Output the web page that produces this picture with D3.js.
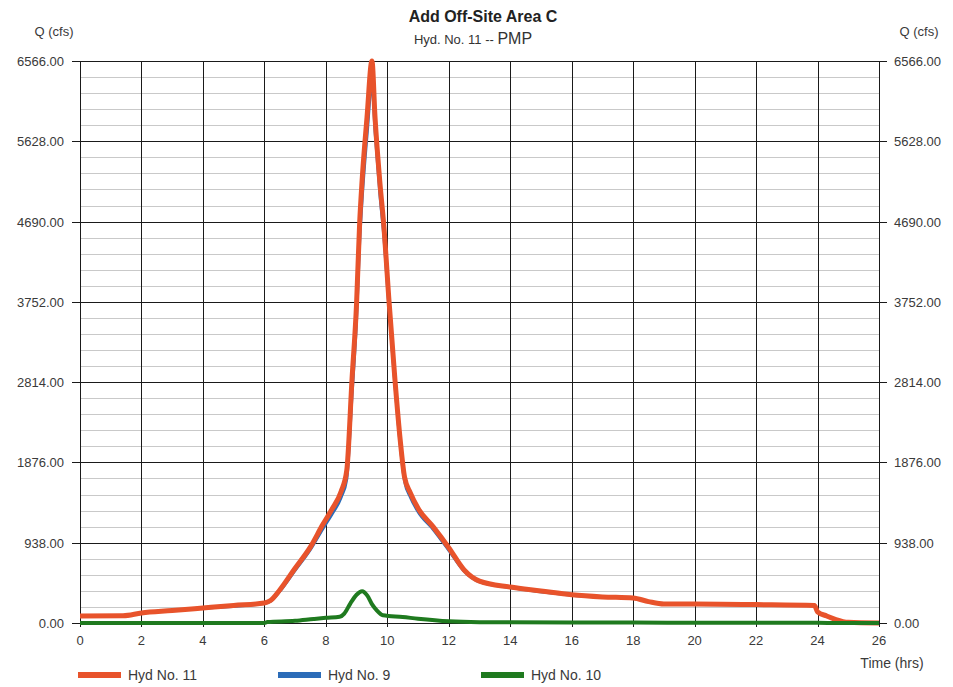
<!DOCTYPE html>
<html lang="en">
<head>
  <meta charset="UTF-8">
  <title>Add Off-Site Area C</title>
  <script src="https://d3js.org/d3.v7.min.js"></script>
  <style>
    body {
      margin: 0;
      background-color: #ffffff;
      font-family: "Liberation Sans", Arial, sans-serif;
    }
    svg {
      display: block;
    }
    .tick-label {
      font-size: 13px;
      fill: #3a3a3a;
    }
  </style>
</head>
<body>
  <svg id="chart"></svg>
  <script>
    // Hydrograph data: [time (hrs), Q (cfs)]
    const hyd11 = [
      [0, 82], [1.4, 85], [2, 117], [3, 145], [4, 175], [5, 205], [6, 233], [6.2, 262],
      [6.5, 385], [7, 640], [7.5, 890], [7.9, 1150], [8.2, 1330], [8.5, 1540], [8.68, 1780],
      [8.85, 2838], [9.0, 3738], [9.1, 4672], [9.18, 5170], [9.34, 5910], [9.5, 6566],
      [9.6, 5910], [9.76, 5139], [9.88, 4672], [10.06, 3738], [10.25, 2838], [10.42, 2137],
      [10.56, 1705], [10.75, 1520], [11.0, 1340], [11.5, 1120], [12.0, 880], [12.5, 620],
      [13, 490], [14, 420], [15, 375], [16, 330], [17, 305], [18, 292], [18.5, 250],
      [19, 222], [20, 222], [22, 215], [23.9, 205], [24.0, 130], [24.3, 82], [24.6, 40],
      [25, 8], [26, 0]
    ];

    const hyd9 = [
      [0, 80], [1.4, 83], [2, 115], [4, 172], [6, 230], [6.2, 255], [6.5, 370], [7, 615],
      [7.5, 860], [7.9, 1100], [8.2, 1270], [8.5, 1470], [8.68, 1680], [8.85, 2650],
      [9.0, 3550], [9.1, 4450], [9.18, 4950], [9.34, 5700], [9.5, 6300], [9.6, 5750],
      [9.76, 5000], [9.88, 4550], [10.06, 3650], [10.25, 2780], [10.42, 2080], [10.56, 1660],
      [10.75, 1470], [11, 1300], [11.5, 1090], [12, 850], [12.5, 605], [13, 480], [14, 415],
      [16, 325], [18, 288], [18.5, 247], [19, 220], [22, 213], [23.9, 203], [24, 128],
      [24.3, 80], [24.6, 38], [25, 6], [26, 0]
    ];

    const hyd10 = [
      [0, 0], [6, 0], [6.1, 12], [7, 25], [7.6, 47], [8, 60], [8.45, 72], [8.6, 110],
      [8.8, 230], [9.0, 330], [9.18, 372], [9.35, 320], [9.5, 220], [9.65, 150], [9.86, 90],
      [10.5, 70], [11, 50], [12, 20], [13, 10], [16, 5], [18, 5], [20, 3], [24, 2],
      [25, 0], [26, 0]
    ];

    const xTicks = [0, 2, 4, 6, 8, 10, 12, 14, 16, 18, 20, 22, 24, 26];
    const yTicks = [0, 938, 1876, 2814, 3752, 4690, 5628, 6566];
    const yMinorStep = 187.6;

    const series = [
      { name: "Hyd No. 9", data: hyd9, color: "#2b6cb8", width: 3 },
      { name: "Hyd No. 11", data: hyd11, color: "#e8532b", width: 5 },
      { name: "Hyd No. 10", data: hyd10, color: "#1f7a1f", width: 4 }
    ];
    const legendOrder = ["Hyd No. 11", "Hyd No. 9", "Hyd No. 10"];

    const W = 953, H = 687;
    const margin = { top: 61, right: 74, bottom: 64, left: 80 };
    const width = W - margin.left - margin.right;
    const height = H - margin.top - margin.bottom;

    const svg = d3.select("#chart").attr("width", W).attr("height", H);

    const x = d3.scaleLinear().domain([0, 26]).range([margin.left, margin.left + width]);
    const y = d3.scaleLinear().domain([0, 6566]).range([margin.top + height, margin.top]);

    // minor horizontal grid
    const minor = d3.range(yMinorStep, 6566, yMinorStep)
      .filter(v => Math.abs(v / 938 - Math.round(v / 938)) > 0.01);
    svg.append("g").selectAll("line").data(minor).join("line")
      .attr("x1", x(0)).attr("x2", x(26))
      .attr("y1", d => Math.round(y(d)) + 0.5).attr("y2", d => Math.round(y(d)) + 0.5)
      .attr("stroke", "#c9c9c9").attr("stroke-width", 1);

    // major horizontal grid with outside ticks on both sides
    svg.append("g").selectAll("line").data(yTicks).join("line")
      .attr("x1", x(0) - 8).attr("x2", x(26) + 8)
      .attr("y1", d => Math.round(y(d)) + 0.5).attr("y2", d => Math.round(y(d)) + 0.5)
      .attr("stroke", "#1a1a1a").attr("stroke-width", 1);

    // vertical grid
    svg.append("g").selectAll("line").data(xTicks).join("line")
      .attr("x1", d => Math.round(x(d)) + 0.5).attr("x2", d => Math.round(x(d)) + 0.5)
      .attr("y1", y(6566)).attr("y2", y(0) + 4)
      .attr("stroke", "#1a1a1a").attr("stroke-width", 1);

    // y tick labels, both sides
    svg.append("g").selectAll("text").data(yTicks).join("text")
      .attr("class", "tick-label")
      .attr("x", x(0) - 16).attr("y", d => y(d) + 5)
      .attr("text-anchor", "end")
      .text(d => d3.format(".2f")(d));
    svg.append("g").selectAll("text").data(yTicks).join("text")
      .attr("class", "tick-label")
      .attr("x", x(26) + 15).attr("y", d => y(d) + 5)
      .attr("text-anchor", "start")
      .text(d => d3.format(".2f")(d));

    // x tick labels
    svg.append("g").selectAll("text").data(xTicks).join("text")
      .attr("class", "tick-label")
      .attr("x", d => x(d)).attr("y", y(0) + 22)
      .attr("text-anchor", "middle")
      .text(d => d);

    // lines
    const line = d3.line().curve(d3.curveMonotoneX).x(d => x(d[0])).y(d => y(d[1]));
    svg.append("g").selectAll("path").data(series).join("path")
      .attr("d", d => line(d.data))
      .attr("fill", "none")
      .attr("stroke", d => d.color)
      .attr("stroke-width", d => d.width)
      .attr("stroke-linejoin", "round");

    // titles
    svg.append("text")
      .attr("x", 483).attr("y", 22)
      .attr("text-anchor", "middle")
      .style("font-size", "16px").style("font-weight", "bold").style("fill", "#222")
      .text("Add Off-Site Area C");
    const sub = svg.append("text")
      .attr("x", 473).attr("y", 44)
      .attr("text-anchor", "middle")
      .style("fill", "#333");
    sub.append("tspan").style("font-size", "13px").text("Hyd. No. 11 -- ");
    sub.append("tspan").style("font-size", "16px").text("PMP");

    svg.append("text").attr("class", "tick-label")
      .attr("x", 54).attr("y", 36).attr("text-anchor", "middle")
      .text("Q (cfs)");
    svg.append("text").attr("class", "tick-label")
      .attr("x", 919).attr("y", 36).attr("text-anchor", "middle")
      .text("Q (cfs)");
    svg.append("text").attr("class", "tick-label")
      .attr("x", 892).attr("y", 668).attr("text-anchor", "middle")
      .style("font-size", "14px")
      .text("Time (hrs)");

    // legend
    const legendX = { "Hyd No. 11": 78, "Hyd No. 9": 278, "Hyd No. 10": 481 };
    const lg = svg.append("g").selectAll("g")
      .data(legendOrder.map(n => series.find(s => s.name === n)))
      .join("g")
      .attr("transform", d => `translate(${legendX[d.name]},675)`);
    lg.append("line")
      .attr("x1", 0).attr("x2", 43).attr("y1", 0).attr("y2", 0)
      .attr("stroke", d => d.color).attr("stroke-width", 6);
    lg.append("text").attr("class", "tick-label")
      .attr("x", 50).attr("y", 5)
      .style("font-size", "14px")
      .text(d => d.name);
  </script>
</body>
</html>
